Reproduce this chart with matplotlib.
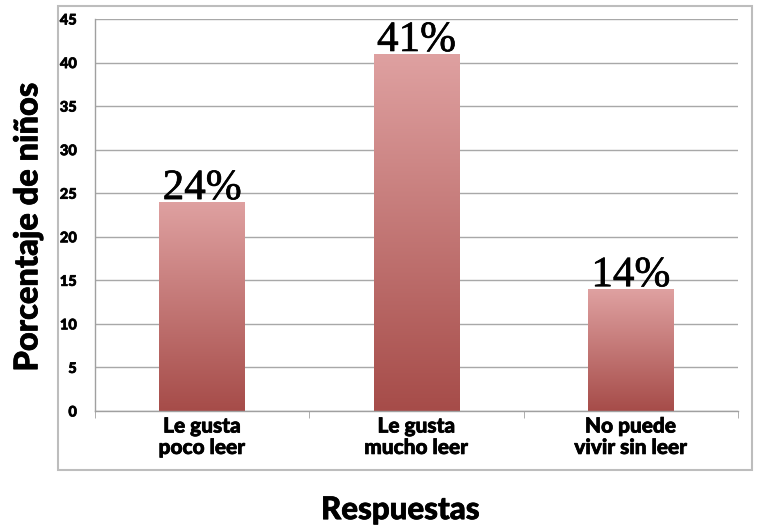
import numpy as np
import matplotlib
matplotlib.use("Agg")
import matplotlib.pyplot as plt
import matplotlib.patheffects as pe
from matplotlib.colors import LinearSegmentedColormap
from matplotlib.patches import Rectangle

# DATA
categories = ["Le gusta\npoco leer", "Le gusta\nmucho leer", "No puede\nvivir sin leer"]
values = [24, 41, 14]
bar_labels = ["24%", "41%", "14%"]
yticks = [0, 5, 10, 15, 20, 25, 30, 35, 40, 45]

sans = ["Lato", "DejaVu Sans"]
heavy = [pe.withStroke(linewidth=0.5, foreground="black")]

fig = plt.figure(figsize=(7.74, 5.27), dpi=100)
ax = fig.add_axes([0.1227, 0.2201, 0.8308, 0.7438])

# outer frame
fig.patches.append(Rectangle((0.0749, 0.108), 0.8967, 0.8806, transform=fig.transFigure,
                             fill=False, edgecolor="#bdbdbd", linewidth=1.5, zorder=0))

x = np.arange(len(values))
bars = ax.bar(x, values, width=0.4, color="none", edgecolor="none", zorder=3)

# vertical gradient inside bars
cmap = LinearSegmentedColormap.from_list("grad", ["#a64c49", "#dfa1a1"])
grad = np.linspace(0, 1, 256).reshape(-1, 1)
for b in bars:
    x0, y0 = b.get_x(), b.get_y()
    w, h = b.get_width(), b.get_height()
    im = ax.imshow(grad, cmap=cmap, origin="lower", aspect="auto",
                   extent=[x0, x0 + w, y0, y0 + h], zorder=2)
    im.set_clip_path(b)

for xi, v, lab in zip(x, values, bar_labels):
    ax.text(xi, v - 0.7, lab, ha="center", va="bottom", fontsize=31,
            family=["Liberation Serif", "DejaVu Serif"], color="black", zorder=4,
            path_effects=[pe.withStroke(linewidth=0.5, foreground="black")])

ax.set_xlim(-0.5, 2.5)
ax.set_ylim(0, 45)
ax.set_yticks(yticks)
ax.set_yticklabels([str(t) for t in yticks], fontsize=10.5, fontweight="black", family=sans)
ax.set_xticks(x)
ax.set_xticklabels(categories, fontsize=15, fontweight="black", family=sans, linespacing=1.15)
for t in ax.get_xticklabels() + ax.get_yticklabels():
    t.set_path_effects(heavy)
ax.set_xticks([-0.5, 0.5, 1.5, 2.5], minor=True)
ax.tick_params(axis="x", which="major", length=0, pad=4)
ax.tick_params(axis="x", which="minor", length=5, color="#a0a0a0", direction="out")
ax.tick_params(axis="y", length=0, pad=13)

ax.yaxis.grid(True, color="#a8a8a8", linewidth=1)
ax.set_axisbelow(True)
for s in ["top", "right"]:
    ax.spines[s].set_visible(False)
for s in ["left", "bottom"]:
    ax.spines[s].set_color("#a0a0a0")
    ax.spines[s].set_linewidth(1)

fig.text(0.036, 0.569, "Porcentaje de niños", rotation=90, ha="center", va="center",
         fontsize=23.5, fontweight="black", family=sans, path_effects=heavy)
fig.text(0.517, 0.032, "Respuestas", ha="center", va="center",
         fontsize=22.5, fontweight="black", family=sans, path_effects=heavy)

fig.savefig("out.png", dpi=100)
